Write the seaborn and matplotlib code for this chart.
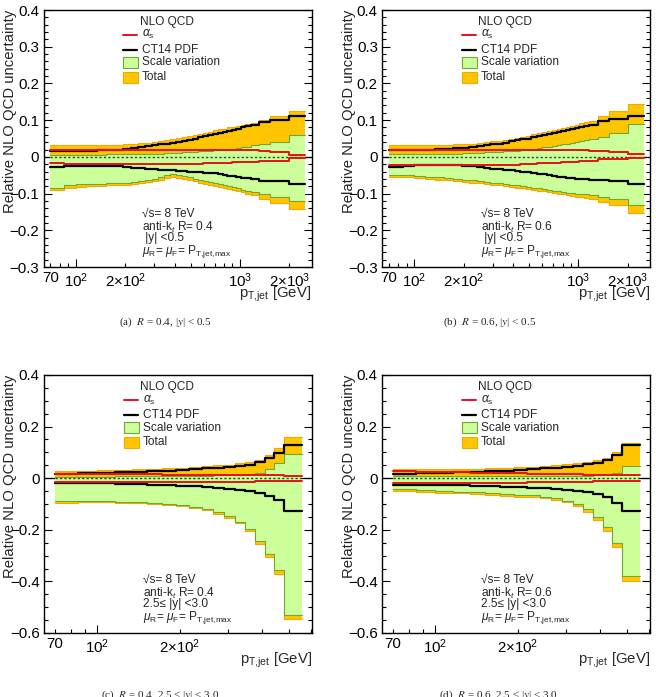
import numpy as np
import pandas as pd
import seaborn as sns
import matplotlib.pyplot as plt
from matplotlib.patches import Rectangle
from matplotlib.ticker import FixedLocator, MultipleLocator, FuncFormatter

# pT bin edges [GeV]
edges_central = [70, 85, 100, 116, 134, 152, 172, 194, 216, 240, 264, 290, 318, 346, 376, 408,
                 442, 478, 516, 556, 598, 642, 688, 736, 786, 838, 894, 952, 1012, 1076, 1162,
                 1310, 1530, 1992, 2500]
edges_forward = [70, 85, 100, 116, 134, 152, 172, 194, 216, 240, 264, 290, 318, 346, 376, 408,
                 442, 478, 556]

# (a) R=0.4, |y|<0.5
a_tot_up = [0.031, 0.031, 0.031, 0.031, 0.032, 0.032, 0.033, 0.034, 0.035, 0.037, 0.039, 0.041,
            0.043, 0.045, 0.048, 0.051, 0.054, 0.057, 0.060, 0.063, 0.066, 0.069, 0.072, 0.075,
            0.077, 0.080, 0.082, 0.085, 0.088, 0.089, 0.091, 0.100, 0.112, 0.126]
a_tot_dn = [-0.090, -0.084, -0.081, -0.080, -0.079, -0.078, -0.077, -0.076, -0.074, -0.072, -0.069,
            -0.066, -0.062, -0.058, -0.056, -0.058, -0.061, -0.064, -0.067, -0.070, -0.073, -0.076,
            -0.079, -0.082, -0.085, -0.088, -0.091, -0.094, -0.097, -0.100, -0.105, -0.115, -0.125,
            -0.142]
a_scale_up = [0.006, 0.006, 0.006, 0.006, 0.006, 0.007, 0.007, 0.007, 0.007, 0.008, 0.008, 0.009,
              0.009, 0.010, 0.010, 0.011, 0.012, 0.013, 0.014, 0.015, 0.016, 0.017, 0.018, 0.019,
              0.020, 0.021, 0.022, 0.024, 0.026, 0.028, 0.033, 0.036, 0.040, 0.060]
a_scale_dn = [-0.085, -0.078, -0.075, -0.074, -0.073, -0.072, -0.071, -0.070, -0.068, -0.066, -0.063,
              -0.060, -0.055, -0.050, -0.048, -0.050, -0.053, -0.056, -0.059, -0.062, -0.065, -0.068,
              -0.071, -0.074, -0.077, -0.080, -0.083, -0.086, -0.089, -0.092, -0.095, -0.100, -0.108,
              -0.119]
a_pdf_up = [0.015, 0.016, 0.016, 0.017, 0.018, 0.019, 0.020, 0.022, 0.024, 0.026, 0.029, 0.031,
            0.034, 0.036, 0.039, 0.041, 0.044, 0.047, 0.050, 0.053, 0.056, 0.059, 0.062, 0.065,
            0.068, 0.071, 0.074, 0.077, 0.080, 0.083, 0.088, 0.094, 0.101, 0.110]
a_pdf_dn = [-0.027, -0.025, -0.024, -0.024, -0.024, -0.025, -0.026, -0.028, -0.029, -0.031, -0.032,
            -0.034, -0.035, -0.036, -0.037, -0.038, -0.039, -0.040, -0.041, -0.042, -0.043, -0.044,
            -0.045, -0.047, -0.049, -0.051, -0.053, -0.055, -0.057, -0.058, -0.061, -0.065, -0.066,
            -0.075]
a_as_up = [0.019, 0.020, 0.020, 0.020, 0.020, 0.020, 0.020, 0.020, 0.020, 0.020, 0.020, 0.020,
           0.020, 0.020, 0.020, 0.020, 0.020, 0.020, 0.020, 0.020, 0.020, 0.020, 0.020, 0.020,
           0.019, 0.019, 0.019, 0.019, 0.019, 0.019, 0.018, 0.016, 0.013, 0.006]
a_as_dn = [-0.018, -0.019, -0.019, -0.019, -0.019, -0.019, -0.019, -0.019, -0.019, -0.019, -0.019,
           -0.019, -0.019, -0.019, -0.019, -0.019, -0.019, -0.019, -0.019, -0.019, -0.018, -0.018,
           -0.017, -0.017, -0.016, -0.016, -0.015, -0.015, -0.015, -0.015, -0.013, -0.012, -0.010,
           -0.003]

# (b) R=0.6, |y|<0.5
b_tot_up = [0.031, 0.031, 0.031, 0.031, 0.032, 0.033, 0.034, 0.035, 0.036, 0.038, 0.040, 0.042,
            0.044, 0.047, 0.050, 0.052, 0.055, 0.058, 0.061, 0.064, 0.067, 0.070, 0.073, 0.076,
            0.079, 0.082, 0.085, 0.088, 0.091, 0.094, 0.099, 0.111, 0.125, 0.145]
b_tot_dn = [-0.055, -0.056, -0.058, -0.060, -0.062, -0.064, -0.066, -0.068, -0.070, -0.072, -0.074,
            -0.076, -0.078, -0.080, -0.082, -0.084, -0.086, -0.088, -0.090, -0.092, -0.094, -0.096,
            -0.098, -0.100, -0.102, -0.104, -0.106, -0.108, -0.110, -0.112, -0.114, -0.122, -0.132,
            -0.153]
b_scale_up = [0.009, 0.009, 0.009, 0.009, 0.009, 0.009, 0.009, 0.010, 0.011, 0.011, 0.012, 0.013,
              0.014, 0.015, 0.016, 0.017, 0.019, 0.020, 0.022, 0.024, 0.026, 0.028, 0.030, 0.032,
              0.034, 0.036, 0.038, 0.040, 0.042, 0.045, 0.050, 0.055, 0.064, 0.090]
b_scale_dn = [-0.050, -0.050, -0.052, -0.054, -0.056, -0.058, -0.060, -0.062, -0.064, -0.066, -0.068,
              -0.070, -0.072, -0.074, -0.076, -0.078, -0.080, -0.082, -0.084, -0.086, -0.088, -0.090,
              -0.092, -0.094, -0.096, -0.098, -0.099, -0.100, -0.101, -0.102, -0.105, -0.108, -0.115,
              -0.130]
b_pdf_up = [0.020, 0.020, 0.020, 0.020, 0.021, 0.022, 0.023, 0.025, 0.027, 0.029, 0.031, 0.034,
            0.036, 0.039, 0.042, 0.045, 0.048, 0.050, 0.053, 0.056, 0.059, 0.062, 0.065, 0.068,
            0.071, 0.074, 0.076, 0.078, 0.080, 0.083, 0.088, 0.097, 0.104, 0.111]
b_pdf_dn = [-0.027, -0.025, -0.023, -0.022, -0.022, -0.022, -0.023, -0.024, -0.026, -0.028, -0.030,
            -0.032, -0.034, -0.035, -0.037, -0.039, -0.040, -0.042, -0.044, -0.046, -0.048, -0.050,
            -0.052, -0.054, -0.056, -0.057, -0.058, -0.059, -0.060, -0.061, -0.062, -0.064, -0.066,
            -0.074]
b_as_up = [0.020, 0.020, 0.020, 0.020, 0.020, 0.020, 0.020, 0.020, 0.020, 0.020, 0.020, 0.020,
           0.020, 0.020, 0.020, 0.020, 0.020, 0.020, 0.020, 0.020, 0.020, 0.019, 0.019, 0.019,
           0.019, 0.019, 0.019, 0.019, 0.018, 0.018, 0.017, 0.015, 0.014, 0.008]
b_as_dn = [-0.022, -0.021, -0.021, -0.021, -0.021, -0.021, -0.021, -0.021, -0.021, -0.021, -0.021,
           -0.021, -0.021, -0.021, -0.021, -0.021, -0.020, -0.019, -0.019, -0.018, -0.018, -0.017,
           -0.017, -0.016, -0.015, -0.014, -0.013, -0.013, -0.012, -0.012, -0.010, -0.007, -0.005,
           -0.003]

# (c) R=0.4, 2.5<=|y|<3.0
c_tot_up = [0.027, 0.028, 0.030, 0.032, 0.034, 0.036, 0.038, 0.041, 0.044, 0.047, 0.050, 0.053,
            0.057, 0.063, 0.072, 0.088, 0.116, 0.160]
c_tot_dn = [-0.095, -0.094, -0.094, -0.095, -0.098, -0.101, -0.104, -0.108, -0.114, -0.123, -0.137,
            -0.154, -0.175, -0.203, -0.255, -0.307, -0.370, -0.545]
c_scale_up = [0.006, 0.006, 0.006, 0.007, 0.007, 0.007, 0.008, 0.008, 0.009, 0.010, 0.011, 0.012,
              0.014, 0.017, 0.022, 0.034, 0.060, 0.094]
c_scale_dn = [-0.090, -0.090, -0.090, -0.091, -0.094, -0.097, -0.100, -0.104, -0.110, -0.118, -0.132,
              -0.148, -0.168, -0.195, -0.245, -0.295, -0.355, -0.530]
c_pdf_up = [0.018, 0.019, 0.021, 0.023, 0.025, 0.027, 0.029, 0.032, 0.035, 0.038, 0.041, 0.044,
            0.048, 0.053, 0.062, 0.078, 0.098, 0.128]
c_pdf_dn = [-0.018, -0.019, -0.020, -0.022, -0.024, -0.026, -0.028, -0.030, -0.032, -0.034, -0.037,
            -0.040, -0.044, -0.049, -0.056, -0.068, -0.083, -0.126]
c_as_up = [0.015, 0.015, 0.015, 0.015, 0.015, 0.015, 0.014, 0.014, 0.014, 0.014, 0.013, 0.013,
           0.013, 0.012, 0.012, 0.011, 0.011, 0.010]
c_as_dn = [-0.016, -0.016, -0.016, -0.016, -0.015, -0.015, -0.015, -0.015, -0.014, -0.014, -0.014,
           -0.013, -0.013, -0.013, -0.012, -0.012, -0.011, -0.010]

# (d) R=0.6, 2.5<=|y|<3.0
d_tot_up = [0.034, 0.034, 0.035, 0.036, 0.037, 0.039, 0.041, 0.043, 0.045, 0.048, 0.051, 0.055,
            0.059, 0.064, 0.070, 0.080, 0.100, 0.138]
d_tot_dn = [-0.050, -0.053, -0.056, -0.059, -0.062, -0.065, -0.068, -0.071, -0.074, -0.078, -0.084,
            -0.094, -0.108, -0.130, -0.162, -0.205, -0.268, -0.398]
d_scale_up = [0.008, 0.008, 0.008, 0.008, 0.008, 0.008, 0.008, 0.008, 0.008, 0.008, 0.008, 0.009,
              0.009, 0.010, 0.012, 0.016, 0.022, 0.047]
d_scale_dn = [-0.042, -0.046, -0.049, -0.052, -0.055, -0.058, -0.061, -0.064, -0.067, -0.071, -0.077,
              -0.087, -0.100, -0.120, -0.150, -0.190, -0.250, -0.378]
d_pdf_up = [0.018, 0.019, 0.021, 0.023, 0.025, 0.027, 0.029, 0.032, 0.035, 0.038, 0.041, 0.045,
            0.049, 0.054, 0.060, 0.072, 0.090, 0.127]
d_pdf_dn = [-0.025, -0.026, -0.027, -0.028, -0.029, -0.031, -0.033, -0.035, -0.037, -0.039, -0.041,
            -0.044, -0.048, -0.053, -0.060, -0.072, -0.095, -0.126]
d_as_up = [0.026, 0.025, 0.024, 0.023, 0.022, 0.021, 0.020, 0.019, 0.018, 0.017, 0.017, 0.016,
           0.015, 0.014, 0.014, 0.013, 0.013, 0.012]
d_as_dn = [-0.020, -0.020, -0.019, -0.019, -0.018, -0.018, -0.017, -0.017, -0.016, -0.015, -0.015,
           -0.014, -0.013, -0.013, -0.012, -0.011, -0.011, -0.010]

info_a = ["\u221as= 8 TeV", "anti-k$_{t}$ R= 0.4", " |y| <0.5"]
info_b = ["\u221as= 8 TeV", "anti-k$_{t}$ R= 0.6", " |y| <0.5"]
info_c = ["\u221as= 8 TeV", "anti-k$_{t}$ R= 0.4", "2.5\u2264 |y| <3.0"]
info_d = ["\u221as= 8 TeV", "anti-k$_{t}$ R= 0.6", "2.5\u2264 |y| <3.0"]
captions = ["(a)  $R$ = 0.4, |$y$| < 0.5", "(b)  $R$ = 0.6, |$y$| < 0.5",
            "(c)  $R$ = 0.4, 2.5 \u2264 |$y$| < 3.0", "(d)  $R$ = 0.6, 2.5 \u2264 |$y$| < 3.0"]

sns.set_style("ticks")
plt.rcParams['font.family'] = ['Liberation Sans', 'DejaVu Sans']
plt.rcParams['mathtext.fontset'] = 'custom'
plt.rcParams['mathtext.rm'] = 'Liberation Sans'
plt.rcParams['mathtext.it'] = 'Liberation Sans:italic'
plt.rcParams['mathtext.bf'] = 'Liberation Sans:bold'

GREEN = '#ccff99'
GREEN_EDGE = '#6fa832'
ORANGE = '#ffc600'
ORANGE_EDGE = '#f2a900'
RED = '#e8101a'

W, H = 656, 697
fig = plt.figure(figsize=(W / 100, H / 100), dpi=100, facecolor='white')


def rect(l, r, t, b):
    return [l / W, (H - b) / H, (r - l) / W, (b - t) / H]


def ext(v):
    return list(v) + [v[-1]]


def step_line(ax, edges, vals, **kw):
    df = pd.DataFrame({'pt': edges, 'v': ext(vals)})
    sns.lineplot(data=df, x='pt', y='v', drawstyle='steps-post', estimator=None,
                 sort=False, ax=ax, legend=False, **kw)


def yfmt(v, p):
    if abs(v) < 1e-9:
        return '0'
    return f'{v:.1f}'.replace('-', '\u2212')


def xfmt(v, p):
    labels = {70: '70', 100: '10$^{2}$', 200: '2\u00d710$^{2}$', 1000: '10$^{3}$',
              2000: '2\u00d710$^{3}$'}
    return labels.get(int(round(v)), '')


def panel(r, edges, tot_up, tot_dn, sc_up, sc_dn, pdf_up, pdf_dn, as_up, as_dn,
          xlim, ylim, ymaj, ymin, info):
    ax = fig.add_axes(r)
    ax.set_xscale('log')
    ax.axhline(0, color='black', lw=0.9, zorder=1)
    ax.fill_between(edges, ext(tot_dn), ext(tot_up), step='post', color=ORANGE, lw=0, zorder=2)
    step_line(ax, edges, tot_up, color=ORANGE_EDGE, lw=0.8, zorder=2.1)
    step_line(ax, edges, tot_dn, color=ORANGE_EDGE, lw=0.8, zorder=2.1)
    ax.fill_between(edges, ext(sc_dn), ext(sc_up), step='post', color=GREEN, lw=0, zorder=2.5)
    step_line(ax, edges, sc_up, color=GREEN_EDGE, lw=0.8, zorder=2.6)
    step_line(ax, edges, sc_dn, color=GREEN_EDGE, lw=0.8, zorder=2.6)
    ax.hlines(0, edges[0], edges[-1], colors='#1f4f1f', lw=1.0, linestyles=(0, (1.6, 1.6)), zorder=3)
    step_line(ax, edges, pdf_up, color='black', lw=1.6, zorder=4)
    step_line(ax, edges, pdf_dn, color='black', lw=1.6, zorder=4)
    step_line(ax, edges, as_up, color=RED, lw=1.4, zorder=5)
    step_line(ax, edges, as_dn, color=RED, lw=1.4, zorder=5)

    ax.set_xlim(*xlim)
    ax.set_ylim(*ylim)
    ax.set_xlabel('')
    ax.set_ylabel('')
    ax.yaxis.set_major_locator(MultipleLocator(ymaj))
    ax.yaxis.set_minor_locator(MultipleLocator(ymin))
    ax.yaxis.set_major_formatter(FuncFormatter(yfmt))
    ax.xaxis.set_major_locator(FixedLocator([100, 1000]))
    minors = [60, 70, 80, 90, 200, 300, 400, 500, 600, 700, 800, 900, 2000]
    ax.xaxis.set_minor_locator(FixedLocator(minors))
    ax.xaxis.set_major_formatter(FuncFormatter(xfmt))
    ax.xaxis.set_minor_formatter(FuncFormatter(xfmt))
    ax.tick_params(axis='both', which='both', direction='in', labelsize=10.8, pad=3,
                   right=True, top=False, width=0.8, colors='black')
    ax.tick_params(axis='both', which='major', length=6)
    ax.tick_params(axis='both', which='minor', length=3)
    ax.tick_params(axis='x', which='both', pad=3)
    for s in ax.spines.values():
        s.set_linewidth(1.0)
        s.set_color('black')

    ax.text(-0.125, 1.0, 'Relative NLO QCD uncertainty', rotation=90, ha='center', va='top',
            fontsize=10.7, transform=ax.transAxes)
    ax.text(1.0, -0.105, r'p$_{\mathrm{T{,}jet}}$ [GeV]', ha='right', va='center',
            fontsize=10.7, transform=ax.transAxes)

    # legend block
    lx0, lx1, tx = 0.297, 0.350, 0.368
    ax.text(0.36, 0.954, 'NLO QCD', fontsize=8.6, va='center', ha='left', transform=ax.transAxes)
    ax.plot([lx0, lx1], [0.903, 0.903], color=RED, lw=1.4, transform=ax.transAxes)
    ax.text(tx, 0.903, r'$\alpha_{\mathrm{s}}$', fontsize=8.6, va='center', transform=ax.transAxes)
    ax.plot([lx0, lx1], [0.846, 0.846], color='black', lw=1.6, transform=ax.transAxes)
    ax.text(tx, 0.846, 'CT14 PDF', fontsize=8.6, va='center', transform=ax.transAxes)
    ax.add_patch(Rectangle((lx0, 0.774), lx1 - lx0 + 0.004, 0.043, transform=ax.transAxes,
                           facecolor=GREEN, edgecolor=GREEN_EDGE, lw=0.8, zorder=6))
    ax.text(tx, 0.796, 'Scale variation', fontsize=8.6, va='center', transform=ax.transAxes)
    ax.add_patch(Rectangle((lx0, 0.716), lx1 - lx0 + 0.004, 0.043, transform=ax.transAxes,
                           facecolor=ORANGE, edgecolor=ORANGE_EDGE, lw=0.8, zorder=6))
    ax.text(tx, 0.739, 'Total', fontsize=8.6, va='center', transform=ax.transAxes)

    # info block
    ys = [0.195, 0.140, 0.101]
    for y, t in zip(ys, info):
        ax.text(tx, y, t, fontsize=8.6, va='baseline', transform=ax.transAxes)
    ax.text(tx, 0.051, r'$\mu_{\mathrm{R}}$= $\mu_{\mathrm{F}}$= P$_{\mathrm{T{,}jet{,}max}}$',
            fontsize=8.6, va='baseline', transform=ax.transAxes)
    return ax


xl_c = (63.5, 2730)
xl_f = (63.8, 607)
panel(rect(43.5, 311.5, 10, 267), edges_central, a_tot_up, a_tot_dn, a_scale_up, a_scale_dn,
      a_pdf_up, a_pdf_dn, a_as_up, a_as_dn, xl_c, (-0.3, 0.4), 0.1, 0.02, info_a)
panel(rect(382, 650, 10, 267), edges_central, b_tot_up, b_tot_dn, b_scale_up, b_scale_dn,
      b_pdf_up, b_pdf_dn, b_as_up, b_as_dn, xl_c, (-0.3, 0.4), 0.1, 0.02, info_b)
panel(rect(44, 312, 375, 633), edges_forward, c_tot_up, c_tot_dn, c_scale_up, c_scale_dn,
      c_pdf_up, c_pdf_dn, c_as_up, c_as_dn, xl_f, (-0.6, 0.4), 0.2, 0.05, info_c)
panel(rect(382, 650, 375, 633), edges_forward, d_tot_up, d_tot_dn, d_scale_up, d_scale_dn,
      d_pdf_up, d_pdf_dn, d_as_up, d_as_dn, xl_f, (-0.6, 0.4), 0.2, 0.05, info_d)

cap_pos = [(165, 322, 'center'), (490, 322, 'center'), (160, 688, 'top'), (498, 688, 'top')]
for (cx, cy, va), txt in zip(cap_pos, captions):
    fig.text(cx / W, (H - cy) / H, txt, ha='center', va=va, fontsize=8,
             family=['Liberation Serif', 'DejaVu Serif'], math_fontfamily='stix')

fig.savefig('out.png', dpi=100, facecolor='white')
